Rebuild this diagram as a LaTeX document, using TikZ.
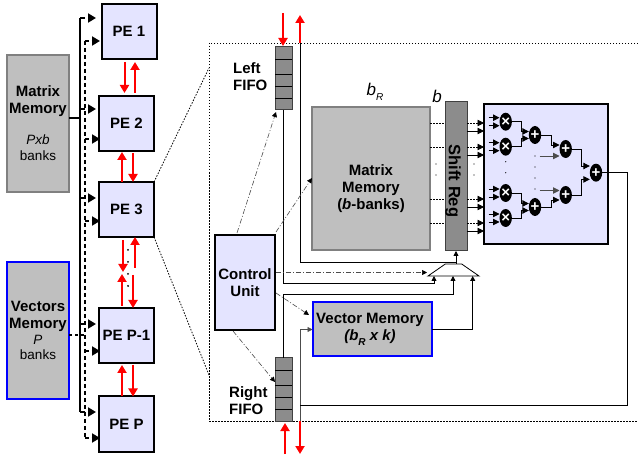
\documentclass[tikz,border=0pt]{standalone}
\usepackage{fontspec}
\setmainfont{Liberation Sans}
\usetikzlibrary{arrows.meta,shapes.geometric}
\definecolor{pefill}{HTML}{E4E4FF}
\definecolor{memfill}{HTML}{BFBFBF}
\definecolor{memline}{HTML}{808080}
\definecolor{fifofill}{HTML}{8C8C8C}
\newcommand{\bigtext}{\fontsize{15}{17}\selectfont\bfseries}
\newcommand{\smalltext}{\fontsize{13.5}{17}\selectfont\mdseries}
\newcommand{\subR}{\raisebox{-5pt}{\fontsize{10}{10}\selectfont\itshape R}}
\tikzset{
  box/.style={draw,line width=2pt,fill=pefill,outer sep=0pt,inner sep=0pt,align=center,font=\bigtext},
  mem/.style={draw=memline,line width=2pt,fill=memfill,outer sep=0pt,inner sep=0pt,align=center,font=\bigtext},
  vmem/.style={mem,draw=blue},
  fifo/.style={draw=black!75,line width=1pt,fill=fifofill,outer sep=0pt,minimum width=17pt},
  mult/.style={ellipse,fill=black,text=white,inner sep=0pt,outer sep=0pt,minimum width=12pt,minimum height=18pt,font=\fontsize{15}{15}\selectfont\bfseries},
  redarrow/.style={red,line width=2pt,-{Triangle[length=8pt,width=9pt]}},
  bigtip/.style={-{Triangle[length=8pt,width=9pt]}},
  tinyarrow/.style={line width=.8pt,-{Triangle[length=5pt,width=5pt]}},
  midarrow/.style={line width=.9pt,-{Triangle[length=6.5pt,width=6.5pt]}},
  dashdot/.style={black!70,line width=.6pt,dash pattern=on 5pt off 2pt on 1pt off 2pt,-{Triangle[length=5pt,width=5pt,black]}},
  dotline/.style={line width=.8pt,dash pattern=on 1.5pt off 1.5pt},
}
\begin{document}
\begin{tikzpicture}[x=1pt,y=-1pt]
\useasboundingbox (0,0) rectangle (638,457);
% memories on the left
\node[mem,minimum width=62pt,minimum height=137pt] (mm) at (38,123.5) {Matrix\\Memory\\[14pt]\smalltext\textit{Pxb}\\[-1pt]\smalltext banks};
\node[vmem,minimum width=62pt,minimum height=137pt] (vecm) at (38,330.5) {Vectors\\Memory\\[-1pt]\smalltext\textit{P}\\[-2pt]\smalltext banks};
% processing elements
\foreach \pe/\x/\y/\txt in {pe1/129/31.5/PE 1,pe2/126.5/123.5/PE 2,pe3/126.5/209.5/PE 3,pep1/126.5/335.5/PE P-1,pep/126.5/424/PE P}
  \node[box,minimum width=55pt,minimum height=55pt] (\pe) at (\x,\y) {\raisebox{-1.5pt}{\txt}};
% buses
\foreach \pe/\ys/\yd/\gap in {pe1/18/41/2.5,pe2/109/139/0,pe3/198/221/0,pep1/324/351/0,pep/412/438/0} {
  \coordinate (s\pe) at (80,\ys);
  \coordinate (d\pe) at (84.5,\yd);
  \draw[bigtip,line width=1.8pt,dash pattern=on 5pt off 3pt,shorten >=\gap pt+3pt] (s\pe) -- (\pe.west |- s\pe);
  \draw[bigtip,line width=1.8pt,dash pattern=on 4pt off 3pt,shorten >=\gap pt-1pt] (d\pe) -- (\pe.west |- d\pe);
}
\draw[line width=1.8pt] (spe1) -- (spep);
\draw[line width=2pt,dash pattern=on 4pt off 3pt] (dpe1) -- (dpep);
\coordinate (mmjoin) at (80,118);
\coordinate (vecjoin) at (84.5,335);
\draw[line width=1.2pt] (mm.east |- mmjoin) -- (mmjoin);
\draw[line width=1.2pt,dash pattern=on 3pt off 3pt] (vecm.east |- vecjoin) -- (vecjoin);
% links between PEs
\draw[redarrow,shorten <=3pt,shorten >=3pt] ([xshift=-4.5pt]pe1.south) -- ([xshift=-2pt]pe2.north);
\draw[redarrow,shorten <=3pt,shorten >=3pt] ([xshift=8.5pt]pe2.north) -- ([xshift=6pt]pe1.south);
\draw[redarrow,shorten >=1pt] ([xshift=-4.5pt]pe3.north) -- ([xshift=-4.5pt]pe2.south);
\draw[redarrow,shorten <=2pt] ([xshift=6.5pt]pe2.south) -- ([xshift=6.5pt]pe3.north);
\coordinate (gapa) at (123,272);
\coordinate (gapb) at (135,268);
\coordinate (gapc) at (122,274);
\coordinate (gapd) at (133,275);
\draw[redarrow,shorten <=3pt] (gapa |- pe3.south) -- (gapa);
\draw[redarrow] (gapb) -- (gapb |- pe3.south);
\draw[redarrow,shorten <=2pt] (gapc |- pep1.north) -- (gapc);
\draw[redarrow] (gapd) -- (gapd |- pep1.north);
\foreach \y in {250,262,274,286} \fill (128,\y) circle (1pt);
\draw[redarrow,shorten >=2pt] ([xshift=-4.5pt]pep.north) -- ([xshift=-4.5pt]pep1.south);
\draw[redarrow,shorten <=2pt] ([xshift=6.5pt]pep1.south) -- ([xshift=6.5pt]pep.north);
% zoomed frame
\coordinate (ftr) at (638,43);
\coordinate (ftl) at (209,43);
\coordinate (fbl) at (209,421);
\coordinate (fbr) at (638,421);
\coordinate (fa) at (209,68);
\coordinate (fb) at (209,375);
\draw[dotline] (ftr) -- (ftl) -- (fbl) -- (fbr);
\draw[dotline] (pe3.north east) -- (fa);
\draw[dotline] (pe3.south east) -- (fb);
% inside the PE
\node[box,minimum width=60pt,minimum height=95pt] (ctrl) at (245,282.5) {Control\\Unit};
\node[mem,minimum width=118pt,minimum height=143pt] (mm2) at (371,178.5) {};
\node[font=\bigtext,align=center,inner sep=0pt] (mm2lab) at (371,188.5) {Matrix\\Memory\\(\textit{b}-banks)};
\node[vmem,minimum width=119pt,minimum height=54pt] (vm) at (372,329.5) {};
\node[font=\bigtext,align=center,inner sep=0pt] (vmlab) at (370,329) {Vector Memory\\\textit{(b}\subR\textit{ x k)}};
\node[fifo,minimum height=63pt] (lfifo) at (283.5,78.5) {};
\node[fifo,minimum height=63pt] (rfifo) at (283.5,389.5) {};
\foreach \y in {59.5,74,86,98} \draw[line width=.8pt] (lfifo.west |- 0,\y) -- (lfifo.east |- 0,\y);
\foreach \y in {370,385,397,409} \draw[line width=.8pt] (rfifo.west |- 0,\y) -- (rfifo.east |- 0,\y);
\node[font=\bigtext,align=left,anchor=west,inner sep=0pt] (lfifolab) at (233,77) {Left\\FIFO};
\node[font=\bigtext,align=left,anchor=west,inner sep=0pt] (rfifolab) at (229,400.5) {Right\\FIFO};
\node[font=\fontsize{17}{17}\selectfont\itshape,inner sep=0pt] (blab) at (375,92) {b\subR};
\node[font=\fontsize{17}{17}\selectfont\itshape,inner sep=0pt] (blab2) at (437,96) {b};
\node[draw=black!75,line width=1pt,fill=fifofill,minimum width=22pt,minimum height=149pt,outer sep=0pt,inner sep=0pt] (sr) at (456,176.5) {};
\node[font=\fontsize{16.5}{16.5}\selectfont\bfseries,rotate=-90,inner sep=0pt] (srlab) at (453,181) {Shift Reg};
\node[trapezium,trapezium stretches=true,trapezium left angle=45,trapezium right angle=45,draw,fill=white,line width=.8pt,minimum width=51pt,minimum height=12pt,inner sep=0pt,outer sep=0pt] (mux) at (453.5,270) {\phantom{x}};
\node[box,minimum width=124pt,minimum height=140pt,fill=pefill] (mac) at (546,174) {};
% FIFO ports
\coordinate (lin) at (283,13);
\coordinate (lout) at (300,15);
\coordinate (ltap) at (300,43);
\coordinate (rin) at (285,454);
\coordinate (rout) at (300,454);
\coordinate (rtap) at (300,421);
\draw[redarrow,shorten >=1pt] (lin) -- (lin |- lfifo.north);
\draw[redarrow] (ltap) -- (lout);
\draw[redarrow,shorten >=2pt] (rin) -- (rin |- rfifo.south);
\draw[redarrow] (rtap) -- (rout);
% data paths
\coordinate (muxout) at (456,262);
\coordinate (mxa) at (434,283);
\coordinate (mxb) at (453,294);
\coordinate (mxc) at (472.7,329.5);
\coordinate (rfork) at (300,405);
\coordinate (outc) at (627,405);
\draw[line width=.8pt] (ltap) |- (muxout);
\draw[tinyarrow] (mux.north -| sr.south) -- (sr.south);
\draw[tinyarrow] (lfifo.south) |- (mxa) -- (mxa |- mux.south);
\draw[tinyarrow] (rfifo.north) |- (mxb) -- (mxb |- mux.south);
\draw[tinyarrow] (vm.east) -- (mxc) -- (mxc |- mux.south);
\draw[tinyarrow,black!70] (rtap) |- (vm.west);
% control signals
\coordinate (cta) at (237,233);
\coordinate (ctb) at (276,232);
\coordinate (ctc) at (276,272.5);
\coordinate (ctd) at (276,293);
\coordinate (cte) at (233,331);
\coordinate (tom) at (312,178);
\coordinate (tol) at (276,112);
\coordinate (tomux) at (427,272.5);
\coordinate (tov) at (309,315);
\coordinate (tor) at (275,382);
\draw[dashdot] (cta) -- (tol);
\draw[dashdot] (ctb) -- (tom);
\draw[dashdot] (ctc) -- (tomux);
\draw[dashdot] (ctd) -- (tov);
\draw[dashdot] (cte) -- (tor);
% shift register to the multipliers
\foreach \y in {123,147,199,223} {
  \draw[dotline] (mm2.east |- 0,\y) -- (sr.west |- 0,\y);
  \draw[midarrow,dotline] (sr.east |- 0,\y) -- (mac.west |- 0,\y);
  \draw[midarrow] (sr.east |- 0,\y+8) -- (mac.west |- 0,\y+8);
}
\foreach \y in {164,175} {
  \fill (436,\y) circle (.6pt);
  \fill (474,\y) circle (.6pt);
}
% multiply and add tree
\foreach \n/\x/\y in {x1/505.7/121.7,x2/505.7/146.7,x3/505.7/193,x4/505.7/218}
  \node[mult] (\n) at (\x,\y) {×};
\foreach \n/\x/\y in {a1/535/135,a2/535/207,a3/565.7/149,a4/565.7/195,a7/596/172.7}
  \node[mult] (\n) at (\x,\y) {+};
\foreach \n in {x1,x2,x3,x4} {
  \draw[midarrow] ([shift={(-11pt,4pt)}]\n.west) -- ([yshift=4pt]\n.west);
  \draw[midarrow] ([shift={(-11pt,-4pt)}]\n.west) -- ([yshift=-4pt]\n.west);
}
\foreach \p/\q/\s in {x1/a1/3.5,x2/a1/-3.5,x3/a2/3.5,x4/a2/-3.5,a1/a3/4,a2/a4/-5,a3/a7/6.7,a4/a7/-6.7}
  \draw[midarrow] (\p.east) -- ++(10,0) |- ([yshift=\s pt]\q.west);
\draw[midarrow,black!70] ([shift={(-20pt,-7pt)}]a3.west) -- ([yshift=-7pt]a3.west);
\draw[midarrow,black!70] ([shift={(-20pt,4.5pt)}]a4.west) -- ([yshift=4.5pt]a4.west);
\foreach \x/\y in {505.7/161.7,505.7/172.7,535/156,535/167,535/178,535/189}
  \fill (\x,\y) circle (.6pt);
% result back to the right FIFO
\draw[line width=.8pt] (rfork) -- (outc) |- (a7.east);
\end{tikzpicture}
\end{document}
